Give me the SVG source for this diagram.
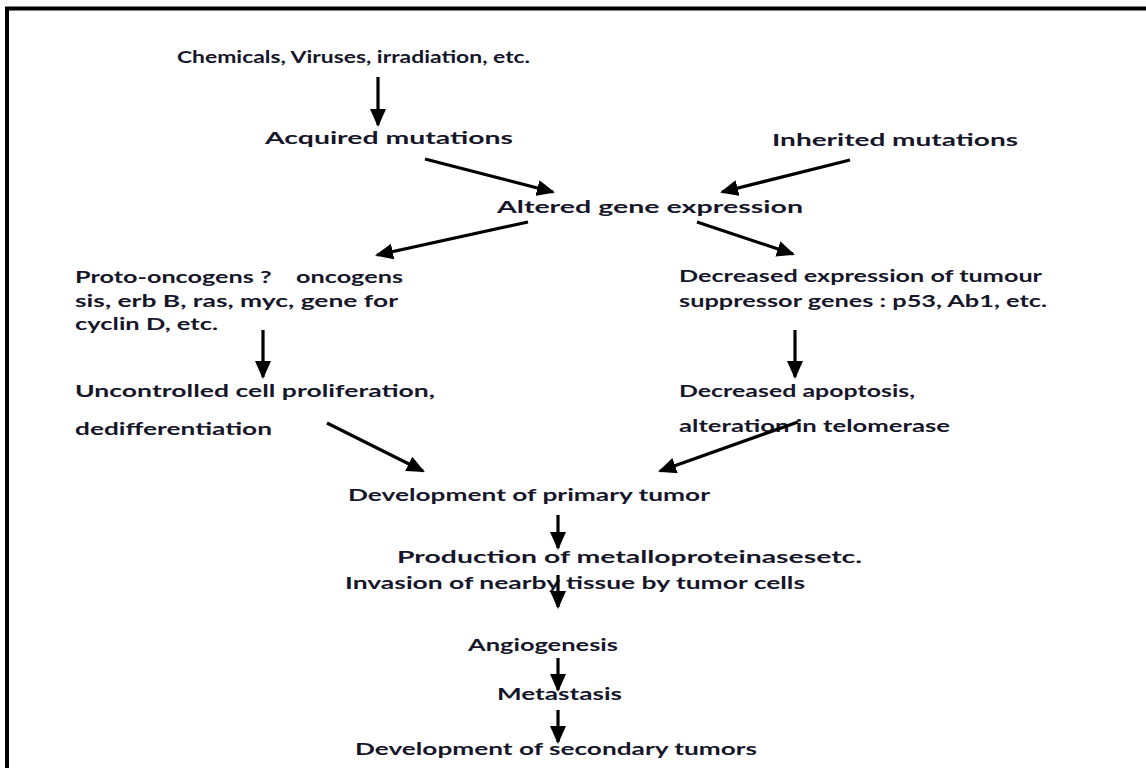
<svg xmlns="http://www.w3.org/2000/svg" width="1146" height="768" viewBox="0 0 1146 768">
<style>
  text { font-family: Lato, "Liberation Sans", Arial, sans-serif; font-weight: bold; font-size: 17.5px; fill: #16162a; white-space: pre; }
  .conn line { stroke: #000; stroke-width: 3.2; marker-end: url(#ah); }
</style>
<defs>
  <marker id="ah" markerUnits="userSpaceOnUse" markerWidth="18" markerHeight="16" viewBox="0 0 18 16" refX="16" refY="8" orient="auto">
    <path d="M0,0 L18,8 L0,16 Z" fill="#000"/>
  </marker>
</defs>
<rect width="1146" height="768" fill="#fff"/>
<path d="M7,775 V8.5 H1150" fill="none" stroke="#000" stroke-width="4"/>

<g id="n-causes"><text x="177" y="63" textLength="353" lengthAdjust="spacingAndGlyphs">Chemicals, Viruses, irradiation, etc.</text></g>
<g id="n-acquired"><text x="265" y="144" textLength="248" lengthAdjust="spacingAndGlyphs">Acquired mutations</text></g>
<g id="n-inherited"><text x="772" y="146" textLength="246" lengthAdjust="spacingAndGlyphs">Inherited mutations</text></g>
<g id="n-altered"><text x="497" y="213" textLength="306" lengthAdjust="spacingAndGlyphs">Altered gene expression</text></g>
<g id="n-proto">
  <text x="75" y="283" textLength="328" lengthAdjust="spacingAndGlyphs" xml:space="preserve">Proto-oncogens ?    oncogens</text>
  <text x="75" y="307" textLength="323" lengthAdjust="spacingAndGlyphs">sis, erb B, ras, myc, gene for</text>
  <text x="75" y="330" textLength="143" lengthAdjust="spacingAndGlyphs">cyclin D, etc.</text>
</g>
<g id="n-uncontrolled">
  <text x="75" y="397" textLength="360" lengthAdjust="spacingAndGlyphs">Uncontrolled cell proliferation,</text>
  <text x="75" y="435" textLength="197" lengthAdjust="spacingAndGlyphs">dedifferentiation</text>
</g>
<g id="n-suppressor">
  <text x="679" y="282" textLength="363" lengthAdjust="spacingAndGlyphs">Decreased expression of tumour</text>
  <text x="679" y="307" textLength="368" lengthAdjust="spacingAndGlyphs">suppressor genes : p53, Ab1, etc.</text>
</g>
<g id="n-apoptosis">
  <text x="679" y="397" textLength="236" lengthAdjust="spacingAndGlyphs">Decreased apoptosis,</text>
  <text x="679" y="432" textLength="271" lengthAdjust="spacingAndGlyphs">alteration in telomerase</text>
</g>
<g id="n-primary"><text x="348" y="501" textLength="362" lengthAdjust="spacingAndGlyphs">Development of primary tumor</text></g>
<g id="n-production"><text x="397" y="563" textLength="465" lengthAdjust="spacingAndGlyphs">Production of metalloproteinasesetc.</text></g>
<g id="n-invasion"><text x="345" y="589" textLength="460" lengthAdjust="spacingAndGlyphs">Invasion of nearby tissue by tumor cells</text></g>
<g id="n-angio"><text x="468" y="651" textLength="150" lengthAdjust="spacingAndGlyphs">Angiogenesis</text></g>
<g id="n-metastasis"><text x="497" y="700" textLength="125" lengthAdjust="spacingAndGlyphs">Metastasis</text></g>
<g id="n-secondary"><text x="355" y="755" textLength="402" lengthAdjust="spacingAndGlyphs">Development of secondary tumors</text></g>

<g id="connectors" class="conn">
  <line x1="378" y1="77" x2="378" y2="125"/>
  <line x1="425" y1="159" x2="553" y2="192"/>
  <line x1="850" y1="160" x2="722" y2="192"/>
  <line x1="528" y1="222" x2="377" y2="255"/>
  <line x1="697" y1="222" x2="793" y2="254"/>
  <line x1="263" y1="330" x2="263" y2="377"/>
  <line x1="795" y1="330" x2="795" y2="377"/>
  <line x1="327" y1="423" x2="423" y2="471"/>
  <line x1="798" y1="422" x2="660" y2="471"/>
  <line x1="558" y1="515" x2="558" y2="548"/>
  <line x1="558" y1="575" x2="558" y2="607"/>
  <line x1="558" y1="658" x2="558" y2="690"/>
  <line x1="558" y1="710" x2="558" y2="742"/>
</g>
</svg>
